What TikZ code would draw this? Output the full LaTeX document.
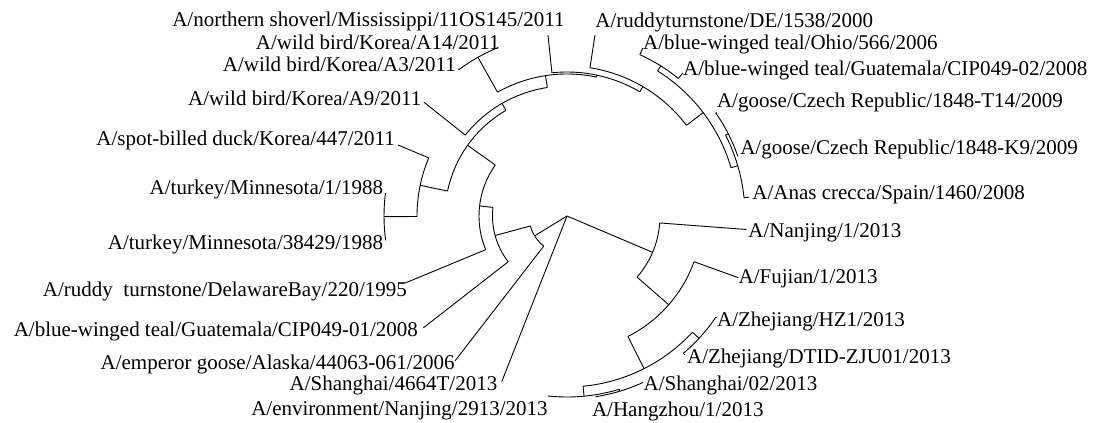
\documentclass[tikz,border=0pt]{standalone}
\usepackage{fontspec}
\setmainfont{Liberation Serif}
\usetikzlibrary{calc}

\begin{document}
\begin{tikzpicture}[x=1pt, y=1pt, line width=0.9pt,
        leaf/.style={inner sep=0pt, text height=15pt, text depth=5pt, font=\fontsize{21}{24}\selectfont}
    ]
        \useasboundingbox (-567,-207) rectangle (528,216);
        \coordinate (root) at (0,0);
        % name, node angle, arc from, arc to, radius
        \newcommand{\clade}[5]{\coordinate (#1) at (#2:#5);
            \draw (#3:#5) arc[start angle=#3, end angle=#4, radius=#5];}
        \newcommand{\stem}[2]{\draw ($(root)!#1pt!(#2)$) -- (#2);}
        % name, angle, parent radius, tip radius, anchor, shift, text
        \newcommand{\leaf}[7]{\coordinate (#1) at (#2:#4);
            \draw ($(root)!#3pt!(#1)$) -- (#1);
            \node[leaf, anchor=#5, shift={#6}] (#1txt) at (#1) {#7};}

        \clade{c1}{211.5}{195.2}{232.3}{38}
        \clade{c2}{195.2}{173.4}{217.9}{74.5}
        \clade{c3}{173.4}{144.6}{202.5}{88}
        \clade{c4}{144.6}{120}{168.2}{122}
        \clade{c5}{120}{98.7}{141.5}{130}
        \clade{c6}{98.7}{78}{119.3}{142}
        \clade{korea}{119.3}{112.2}{126.4}{182}
        \clade{c7}{78}{59.6}{96}{144}
        \clade{c8}{59.6}{37.2}{81.2}{150}
        \clade{c9}{37.2}{16.4}{58}{171}
        \clade{teal}{58}{51}{65.7}{177}
        \clade{c10}{16.4}{5.9}{27}{178}
        \clade{czech}{27}{19.3}{34.7}{181}
        \clade{c11}{168.2}{157.2}{180.4}{150}
        \clade{turkey}{180.2}{172.8}{187.6}{183}
        \clade{h7n9}{-23}{-41.1}{-4.3}{93}
        \clade{c12}{-41.1}{-63.2}{-19.8}{135}
        \clade{c13}{-63.2}{-84.6}{-42.8}{171}
        \clade{zhejiang}{-42.8}{-49.7}{-34.2}{180}
        \clade{c14}{-84.6}{-96}{-73.2}{181}
        \clade{c15}{-73.2}{-81}{-65.4}{183}

        \draw (root) -- (c1);
        \stem{38}{c2}
        \stem{74.5}{c3}
        \stem{88}{c4}
        \stem{122}{c5}
        \stem{130}{c6}
        \stem{142}{korea}
        \stem{142}{c7}
        \stem{144}{c8}
        \stem{150}{c9}
        \stem{171}{teal}
        \stem{171}{c10}
        \stem{178}{czech}
        \stem{122}{c11}
        \stem{150}{turkey}
        \draw (root) -- (h7n9);
        \stem{93}{c12}
        \stem{135}{c13}
        \stem{171}{zhejiang}
        \stem{171}{c14}
        \stem{181}{c15}

        \leaf{shoverl}{96}{144}{182}{east}{(17,13)}{A/northern shoverl/Mississippi/11OS145/2011}
        \leaf{a14}{112.2}{182}{182.5}{east}{(2,3)}{A/wild bird/Korea/A14/2011}
        \leaf{a3}{126.4}{182}{183}{east}{(-2,2)}{A/wild bird/Korea/A3/2011}
        \leaf{a9}{141.5}{130}{183}{east}{(-2,2)}{A/wild bird/Korea/A9/2011}
        \leaf{spot}{157.2}{150}{183}{east}{(-3,5)}{A/spot-billed duck/Korea/447/2011}
        \leaf{turkey1}{172.8}{183}{183}{east}{(-2,4)}{A/turkey/Minnesota/1/1988}
        \leaf{turkey2}{187.6}{183}{183}{east}{(-2,-4)}{A/turkey/Minnesota/38429/1988}
        \leaf{delaware}{202.5}{88}{175}{east}{(2,-9)}{A/ruddy\ \ turnstone/DelawareBay/220/1995}
        \leaf{cip01}{217.9}{74.5}{182}{east}{(-5,-4)}{A/blue-winged teal/Guatemala/CIP049-01/2008}
        \leaf{emperor}{232.3}{38}{183}{east}{(0,-4)}{A/emperor goose/Alaska/44063-061/2006}
        \leaf{sh4664}{248.5}{0}{178}{east}{(-4,-4)}{A/Shanghai/4664T/2013}
        \leaf{env}{-96}{181}{181}{east}{(0,-14)}{A/environment/Nanjing/2913/2013}
        \leaf{hangzhou}{-81}{183}{183}{west}{(-4,-15)}{A/Hangzhou/1/2013}
        \leaf{sh02}{-65.4}{183}{183}{west}{(0,-3)}{A/Shanghai/02/2013}
        \leaf{dtid}{-49.7}{180}{182}{west}{(2,-4)}{A/Zhejiang/DTID-ZJU01/2013}
        \leaf{hz1}{-34.2}{180}{181}{west}{(0,-4)}{A/Zhejiang/HZ1/2013}
        \leaf{fujian}{-19.8}{135}{182}{west}{(0,-1)}{A/Fujian/1/2013}
        \leaf{nanjing}{-4.3}{93}{180}{west}{(1.5,-3.5)}{A/Nanjing/1/2013}
        \leaf{anas}{5.9}{178}{183}{west}{(3,3)}{A/Anas crecca/Spain/1460/2008}
        \leaf{k9}{19.3}{181}{181}{west}{(2,7)}{A/goose/Czech Republic/1848-K9/2009}
        \leaf{t14}{34.7}{181}{182}{west}{(0,10)}{A/goose/Czech Republic/1848-T14/2009}
        \leaf{cip02}{51}{177}{184}{west}{(0,3)}{A/blue-winged teal/Guatemala/CIP049-02/2008}
        \leaf{ohio}{65.7}{177}{184}{west}{(0,4)}{A/blue-winged teal/Ohio/566/2006}
        \leaf{ruddyde}{81.2}{150}{183}{west}{(0,13)}{A/ruddyturnstone/DE/1538/2000}
    \end{tikzpicture}
\end{document}
